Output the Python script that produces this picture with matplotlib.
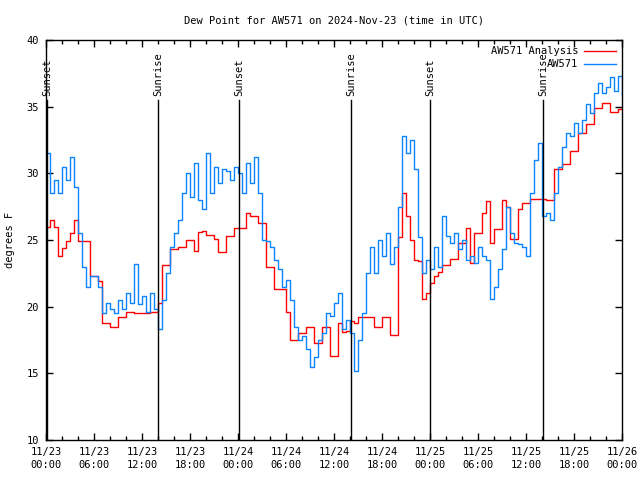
import pandas as pd
import matplotlib
matplotlib.use('Agg')
import matplotlib.pyplot as plt
import matplotlib.dates as mdates

# half-hourly readings, 11/23 00:00 -> 11/26 00:00 UTC
analysis_dewpt = [
    26.0, 26.5, 26.0, 23.8, 24.4, 24.9, 25.5, 26.5, 24.9, 24.9, 24.9, 22.3,
    22.3, 21.9, 18.8, 18.8, 18.5, 18.5, 19.2, 19.2, 19.6, 19.6, 19.5, 19.5,
    19.5, 19.5, 19.6, 19.6, 20.3, 23.1, 23.1, 24.3, 24.3, 24.5, 24.5, 25.0,
    25.0, 24.2, 25.6, 25.7, 25.4, 25.4, 25.1, 24.1, 24.1, 25.3, 25.3, 25.9,
    25.9, 25.9, 27.0, 26.8, 26.8, 26.3, 26.3, 23.0, 23.0, 21.3, 21.3, 21.3,
    19.6, 17.5, 17.5, 18.0, 18.0, 18.5, 18.5, 17.3, 17.3, 18.5, 18.5, 16.3,
    16.3, 18.8, 18.1, 18.2, 18.9, 18.8, 19.2, 19.2, 19.2, 19.2, 18.5, 18.5,
    19.2, 19.2, 17.9, 17.9, 25.2, 28.5, 26.8, 25.0, 23.5, 23.4, 20.6, 21.0,
    21.8, 22.3, 22.6, 23.1, 23.1, 23.6, 23.6, 24.8, 24.8, 25.9, 23.3, 25.5,
    25.5, 27.0, 27.9, 24.8, 25.8, 25.8, 28.0, 27.5, 25.1, 25.1, 27.3, 27.8,
    27.8, 28.1, 28.1, 28.1, 28.1, 28.0, 28.0, 30.3, 30.3, 30.7, 30.7, 31.7,
    31.7, 33.0, 33.0, 33.7, 33.7, 34.9, 34.9, 35.3, 35.3, 34.6, 34.6, 34.8,
    34.8,
]

station_dewpt = [
    31.5, 28.5, 29.5, 28.5, 30.5, 29.5, 31.2, 29.0, 25.5, 23.0, 21.5, 22.3,
    22.3, 21.5, 19.5, 20.3, 19.8, 19.5, 20.5, 19.8, 21.0, 20.3, 23.2, 20.2,
    20.8, 19.6, 21.0, 19.8, 18.3, 20.5, 22.5, 24.5, 25.5, 26.5, 28.5, 30.0,
    28.2, 30.8, 28.0, 27.3, 31.5, 28.5, 30.5, 29.3, 30.3, 30.2, 29.5, 30.5,
    30.0, 28.5, 30.8, 29.3, 31.2, 28.5, 25.0, 24.9, 24.5, 23.5, 22.8, 21.5,
    22.0, 20.5, 18.5, 17.5, 17.8, 16.8, 15.5, 16.2, 17.5, 18.0, 19.5, 19.3,
    20.3, 21.0, 18.3, 19.0, 18.0, 15.2, 17.5, 19.5, 22.5, 24.5, 22.5, 25.0,
    23.8, 25.5, 23.2, 24.5, 27.5, 32.8, 31.5, 32.5, 30.3, 25.2, 22.5, 23.5,
    22.8, 24.5, 23.0, 26.8, 25.3, 24.8, 25.5, 24.3, 25.0, 23.5, 23.8, 23.3,
    24.5, 23.8, 23.5, 20.6, 21.5, 22.8, 24.3, 27.5, 25.5, 24.8, 24.7, 24.5,
    23.8, 28.5, 31.0, 32.3, 26.8, 27.0, 26.5, 28.5, 30.5, 32.0, 33.0, 32.8,
    33.8, 33.0, 34.0, 35.2, 34.5, 36.0, 36.8, 36.0, 36.5, 37.2, 36.2, 37.3,
    35.8,
]

sun_times = ['2024-11-23 00:09', '2024-11-23 14:03', '2024-11-24 00:09',
             '2024-11-24 14:06', '2024-11-25 00:03', '2024-11-25 14:06']
sun_labels = ['Sunset', 'Sunrise', 'Sunset', 'Sunrise', 'Sunset', 'Sunrise']

times = pd.date_range('2024-11-23 00:00', periods=len(station_dewpt), freq='30min')

plt.rcParams['font.family'] = ['DejaVu Sans Mono']
plt.rcParams['font.size'] = 7.5

fig = plt.figure(figsize=(6.4, 4.8), dpi=100)
ax = fig.add_axes([46 / 640, 40 / 480, 576 / 640, 400 / 480])

ax.plot(times, analysis_dewpt, color='#ff0000', lw=1.0, drawstyle='steps-post', label='AW571 Analysis')
ax.plot(times, station_dewpt, color='#0a84ff', lw=1.0, drawstyle='steps-post', label='AW571')

# sunrise / sunset markers
for t, lab in zip(sun_times, sun_labels):
    ts = pd.Timestamp(t)
    ax.plot([ts, ts], [10, 35.5], color='black', lw=1.0)
    ax.text(ts, 35.8, lab, rotation=90, ha='center', va='bottom')

ax.set_xlim(pd.Timestamp('2024-11-23 00:00'), pd.Timestamp('2024-11-26 00:00'))
ax.set_ylim(10, 40)
ax.set_yticks([10, 15, 20, 25, 30, 35, 40])

ax.xaxis.set_major_locator(mdates.HourLocator(byhour=range(0, 24, 6)))
ax.xaxis.set_minor_locator(mdates.HourLocator(byhour=range(0, 24, 2)))
ax.xaxis.set_major_formatter(mdates.DateFormatter('%m/%d\n%H:%M'))
for lbl in ax.get_xticklabels():
    lbl.set_linespacing(1.35)

ax.tick_params(which='both', direction='in', top=True, right=True, width=1)
ax.tick_params(which='major', length=5, pad=5)
ax.tick_params(which='minor', length=3)
for s in ax.spines.values():
    s.set_linewidth(1.0)

ax.set_ylabel('degrees F', labelpad=8)
ax.set_title('Dew Point for AW571 on 2024-Nov-23 (time in UTC)', fontsize=7.5, pad=12)

ax.legend(loc='upper right', frameon=False, markerfirst=False, handlelength=3.0,
          borderaxespad=0.2, labelspacing=0.3, handletextpad=0.6)

plt.savefig('out.png', dpi=100)
